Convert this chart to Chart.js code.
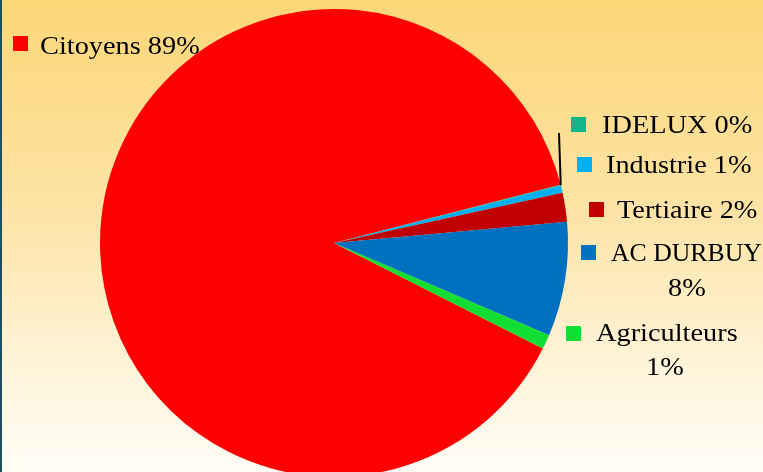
<!DOCTYPE html>
<html>
<head>
<meta charset="utf-8">
<script src="https://cdn.jsdelivr.net/npm/chart.js@4"></script>
<style>
  html, body { margin: 0; padding: 0; overflow: hidden; }
  body {
    width: 763px; height: 472px;
    background: linear-gradient(to bottom, #fcd777 0%, #fde3a6 45%, #fff3d6 75%, #fffdf6 100%);
  }
  #frame {
    position: absolute; left: 0; top: 0; width: 763px; height: 472px;
    border-left: 2px solid #1f4e5f; box-sizing: border-box; overflow: hidden;
  }
  #wrap { position: absolute; left: -2px; top: 0; width: 763px; height: 490px; }
</style>
</head>
<body>
<div id="frame"><div id="wrap"><canvas id="pie"></canvas></div></div>
<script>
// slices, clockwise from the start angle
const categories = ['Citoyens', 'IDELUX', 'Industrie', 'Tertiaire', 'AC DURBUY', 'Agriculteurs'];
const shares = [88.6, 0.05, 0.5, 2.0, 7.9, 1.0];
const colors = ['#ff0000', '#12b48a', '#00b0f0', '#c00000', '#0070c0', '#11dd33'];

// where the data labels sit (text lines, square key position)
const labelLayout = [
  {key: [13, 36], lines: [['Citoyens 89%', 40, 46, 'left']]},
  {key: [571, 117], lines: [['IDELUX 0%', 602, 125, 'left']], leader: [559, 133]},
  {key: [577, 157], lines: [['Industrie 1%', 606, 165, 'left']]},
  {key: [589, 202], lines: [['Tertiaire 2%', 617, 210, 'left']]},
  {key: [581, 245], lines: [['AC DURBUY', 611, 253, 'left', 0.99], ['8%', 687, 288, 'center']]},
  {key: [566, 326], lines: [['Agriculteurs', 596, 333, 'left'], ['1%', 665, 367, 'center']]}
];

const labelPlugin = {
  id: 'pieLabels',
  afterDatasetsDraw(chart) {
    const c = chart.ctx;
    const arcs = chart.getDatasetMeta(0).data;
    c.save();
    labelLayout.forEach((lab, i) => {
      if (lab.leader) {
        const a = arcs[i];
        const mid = (a.startAngle + a.endAngle) / 2;
        c.strokeStyle = '#000';
        c.lineWidth = 2;
        c.beginPath();
        c.moveTo(a.x + Math.cos(mid) * a.outerRadius, a.y + Math.sin(mid) * a.outerRadius);
        c.lineTo(lab.leader[0], lab.leader[1]);
        c.stroke();
      }
      c.fillStyle = colors[i];
      c.fillRect(lab.key[0], lab.key[1], 15, 15);
      c.fillStyle = '#000';
      c.font = '26px "Liberation Serif", serif';
      c.textBaseline = 'middle';
      lab.lines.forEach(l => {
        c.save();
        c.translate(l[1], l[2]);
        c.scale(l[4] || 1.09, 1);
        c.textAlign = l[3];
        c.fillText(l[0], 0, 1);
        c.restore();
      });
    });
    c.restore();
  }
};

new Chart(document.getElementById('pie'), {
  type: 'pie',
  data: {
    labels: categories,
    datasets: [{
      data: shares,
      backgroundColor: colors,
      borderWidth: 0
    }]
  },
  options: {
    responsive: true,
    maintainAspectRatio: false,
    animation: false,
    rotation: 116.8,
    layout: {padding: {top: 9, bottom: 13, left: 0, right: 95}},
    plugins: {legend: {display: false}, tooltip: {enabled: false}}
  },
  plugins: [labelPlugin]
});
</script>
</body>
</html>
